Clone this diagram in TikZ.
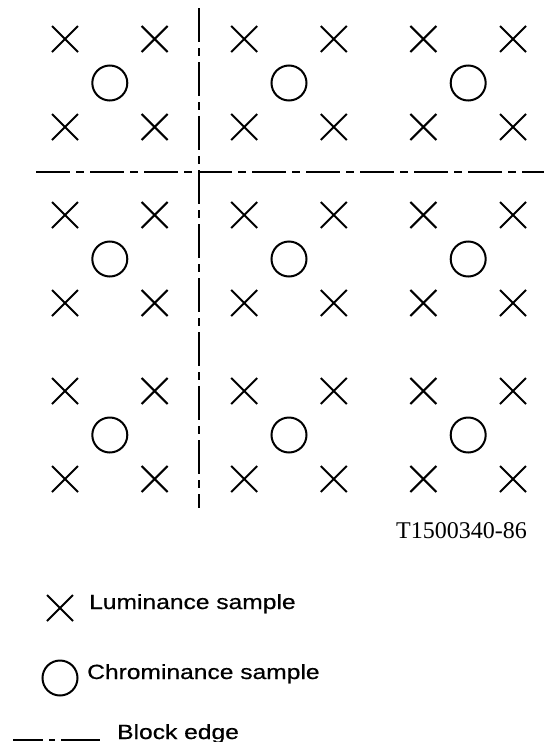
\documentclass[tikz,border=0pt]{standalone}
\usepackage{fontspec}
\usepackage{tikz}
\usetikzlibrary{shapes.misc}
\usetikzlibrary{positioning}
\newfontfamily\legfont[FakeStretch=1.2, FakeBold=0.6]{Liberation Sans}
\newfontfamily\reffont{Liberation Serif}
\tikzset{
  luma/.style={draw, cross out, line width=2pt, minimum size=#1, inner sep=0pt},
  luma/.default=24pt,
  croma/.style={draw, circle, line width=2pt, minimum size=#1, inner sep=0pt},
  croma/.default=35pt,
  borda/.style={line width=2pt, dash pattern=on 34pt off 6pt on 8pt off 6pt},
  legenda/.style={anchor=base west, inner sep=0pt, font=\legfont\fontsize{20.5}{22}\selectfont},
}
\begin{document}
\begin{tikzpicture}[x=1pt, y=-1pt]
  \useasboundingbox (0,0) rectangle (547,742);
  % luminance samples
  \foreach \i in {0,...,5}
    \foreach \j in {0,...,5}
      \node[luma] (l-\i-\j) at ({65+89.6*\i},{39+88*\j}) {};
  % chrominance samples
  \foreach \i in {0,1,2}
    \foreach \j in {0,1,2}
      \node[croma] (c-\i-\j) at ({65+89.6*(2*\i+0.5)},{39+88*(2*\j+0.5)}) {};
  % block edges
  \coordinate (vtop) at (199,8);
  \coordinate (vbot) at (199,508);
  \coordinate (hleft) at (36,172);
  \coordinate (hright) at (544,172);
  \draw[borda] (vtop) -- (vbot);
  \draw[borda] (hleft) -- (hright);
  \node[font=\reffont\fontsize{24}{26}\selectfont, anchor=base east, inner sep=0pt] (ref) at (527,538) {T1500340-86};
  % legend
  \node[luma] (lum-leg) at (60,608) {};
  \node[legenda] (lum-txt) at (89,609) {Luminance sample};
  \node[croma] (cro-leg) at (60,678) {};
  \node[legenda] (cro-txt) at (87,679) {Chrominance sample};
  \coordinate (leg-a) at (13,740);
  \coordinate (leg-b) at (100,740);
  \draw[borda, dash pattern=on 30pt off 6pt on 6pt off 6pt on 60pt] (leg-a) -- (leg-b);
  \node[legenda] (bor-txt) at (117,739) {Block edge};
\end{tikzpicture}
\end{document}
